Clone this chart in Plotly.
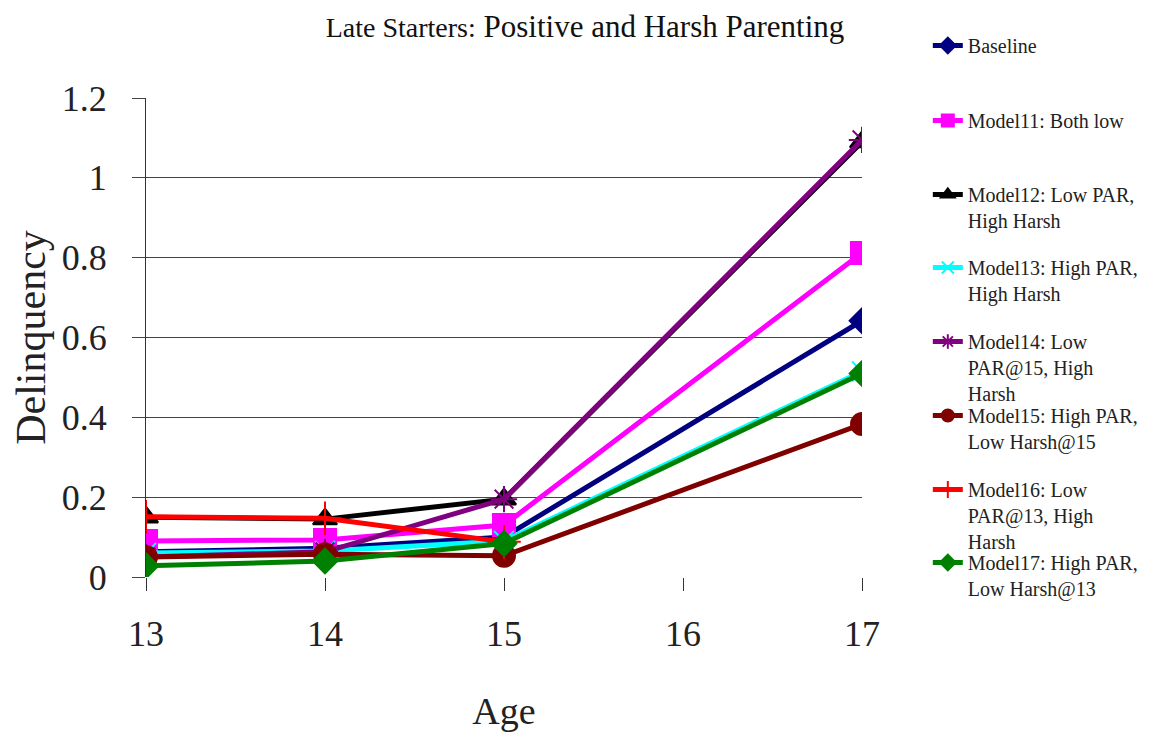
"""
Late starters: delinquency by age under positive / harsh parenting models
"""

import plotly.graph_objs as go

# data
ages = [13, 14, 15, 17]
baseline = [0.063, 0.072, 0.100, 0.642]
model11 = [0.090, 0.093, 0.130, 0.812]
model12 = [0.150, 0.145, 0.195, 1.090]
model13 = [0.060, 0.065, 0.090, 0.515]
model14 = [0.050, 0.063, 0.195, 1.095]
model15 = [0.050, 0.057, 0.053, 0.383]
model16 = [0.151, 0.147, 0.088, None]
model17 = [0.028, 0.040, 0.084, 0.510]

names = [
    "Baseline",
    "Model11: Both low",
    "Model12: Low PAR,<br>High Harsh",
    "Model13: High PAR,<br>High Harsh",
    "Model14: Low<br>PAR@15, High<br>Harsh",
    "Model15: High PAR,<br>Low Harsh@15",
    "Model16: Low<br>PAR@13, High<br>Harsh",
    "Model17: High PAR,<br>Low Harsh@13",
]
series = [baseline, model11, model12, model13, model14, model15, model16, model17]

colors = ["#000080", "#FF00FF", "#000000", "#00FFFF",
          "#800080", "#800000", "#FF0000", "#008000"]
symbols = ["diamond", "square", "triangle-up", "x-thin-open",
           "asterisk-open", "circle", "cross-thin-open", "diamond"]
sizes = [19, 22, 21, 20, 22, 22, 24, 19]

FONT = "Liberation Serif"

# the page body has an 8px margin, so the figure is shrunk by that much
OFF = 8
W, H = 1155 - OFF, 737 - OFF

# plot area in reference pixels
x0, x1, y0, y1 = 146, 864, 98, 577
L, T = x0 - OFF, y0 - OFF
R, B = 1155 - x1, 737 - y1
plot_w = x1 - x0
plot_h = y1 - y0

# legend first-line centres (reference px from top)
legend_centres = [46, 121, 195, 268, 342, 416, 490, 563]

data = []
for i, (nm, ys) in enumerate(zip(names, series)):
    data.append(
        go.Scatter(
            x=ages,
            y=ys,
            name=nm,
            mode="lines+markers",
            line=dict(color=colors[i], width=5),
            marker=dict(symbol=symbols[i], size=sizes[i], color=colors[i],
                        line=dict(color=colors[i], width=2)),
            legend="legend" if i == 0 else "legend%d" % (i + 1),
            connectgaps=False,
        )
    )

layout = dict(
    width=W,
    height=H,
    margin=dict(l=L, r=R, t=T, b=B),
    paper_bgcolor="white",
    plot_bgcolor="white",
    font=dict(family=FONT, color="#222"),
    title=dict(
        text="<span style='font-size:28px'>Late Starters:</span> Positive and Harsh Parenting",
        font=dict(family=FONT, size=31, color="#111"),
        x=(585 - OFF) / W, xanchor="center",
        y=1 - (26 - OFF) / H, yanchor="middle",
    ),
    xaxis=dict(
        range=[13, 17],
        tickvals=[13, 14, 15, 16, 17],
        ticks="outside", ticklen=13, tickcolor="#333",
        showgrid=False, zeroline=False, showline=False,
        automargin=False,
        tickfont=dict(family=FONT, size=36, color="#222"),
        ticklabelstandoff=12,
        title=dict(text="Age", font=dict(family=FONT, size=38, color="#222"),
                   standoff=44),
    ),
    yaxis=dict(
        range=[0, 1.2],
        tickvals=[0, 0.2, 0.4, 0.6, 0.8, 1.0, 1.2],
        ticks="outside", ticklen=13, tickcolor="#444",
        showgrid=True, gridcolor="#444", gridwidth=1,
        zeroline=False, showline=True, linecolor="#333", linewidth=1,
        automargin=False,
        tickfont=dict(family=FONT, size=36, color="#222"),
        ticklabelstandoff=18,
        title=dict(text="Delinquency", font=dict(family=FONT, size=42, color="#222"),
                   standoff=8),
    ),
    showlegend=True,
)

# one legend per series so each can sit at its own spot like the original
for i, c in enumerate(legend_centres):
    key = "legend" if i == 0 else "legend%d" % (i + 1)
    layout[key] = dict(
        x=(930 - x0) / plot_w,
        y=(y1 - (c - 20)) / plot_h,
        xanchor="left", yanchor="top",
        valign="top",
        bgcolor="rgba(0,0,0,0)",
        borderwidth=0,
        font=dict(family=FONT, size=20, color="#222"),
        itemsizing="constant",
    )

fig = go.Figure(data=data, layout=go.Layout(**layout))
fig.write_html("out.html")
